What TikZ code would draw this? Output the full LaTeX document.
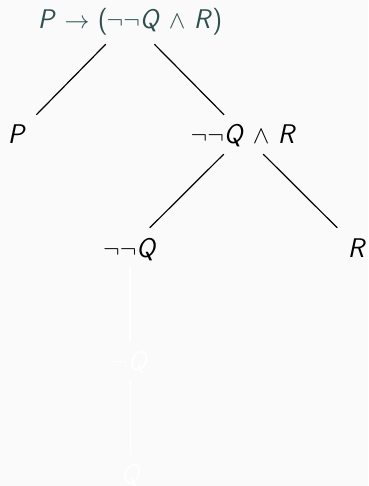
\documentclass[tikz,border=0pt]{standalone}
\usepackage{xcolor}
\definecolor{bgc}{HTML}{FAFAFA}
\definecolor{topc}{HTML}{2F4F4F}
\begin{document}
\begin{tikzpicture}[x=1pt,y=-1pt,
  lbl/.style={font=\fontsize{27}{30}\selectfont\sffamily, anchor=base, text height=19pt, text depth=0pt, inner ysep=10pt, minimum width=40pt},
  toplbl/.style={lbl, inner ysep=15pt, text=topc},
  ghost/.style={lbl, text=white},
  edge/.style={draw=black, line width=1.2pt},
  ghostedge/.style={draw=white, line width=1.2pt}]
\fill[bgc] (0,0) rectangle (368,486);
\useasboundingbox (0,0) rectangle (368,486);
\node[toplbl] (top) at (130,29) {\textit{P} $\to$ (\kern-1pt$\neg\neg$\textit{Q} $\wedge$ \textit{R})};
\node[lbl] (p) at (17,144) {\textit{P}};
\node[lbl] (and) at (243.5,144) {$\neg\neg$\textit{Q} $\wedge$ \textit{R}};
\node[lbl] (nnq) at (130,257) {$\neg\neg$\textit{Q}};
\node[lbl] (r) at (357,257) {\textit{R}};
\node[ghost] (nq) at (130,370) {$\neg$\textit{Q}};
\node[ghost] (q) at (131,483) {\textit{Q}};
\draw[edge] (top) -- (p);
\draw[edge] (top) -- (and);
\draw[edge] (and) -- (nnq);
\draw[edge] (and) -- (r);
\draw[ghostedge] (nnq) -- (nq);
\draw[ghostedge] (nq) -- (q);
\end{tikzpicture}
\end{document}
